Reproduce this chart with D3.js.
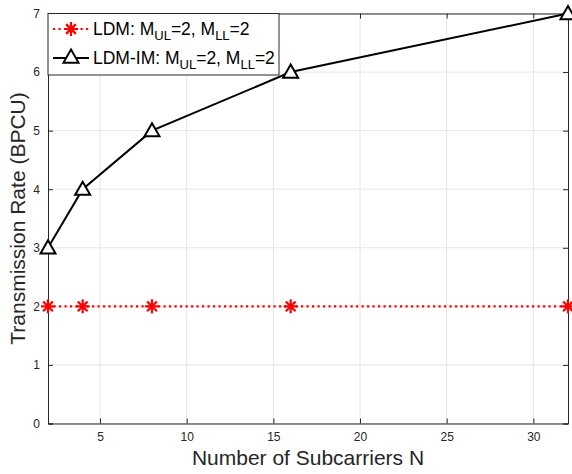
<!DOCTYPE html>
<html><head><meta charset="utf-8">
<script src="https://cdn.jsdelivr.net/npm/d3@7"></script>
<style>body{margin:0;background:#fff}svg{display:block;font-family:"Liberation Sans",Arial,sans-serif}</style>
</head><body><svg id="c" width="572" height="474"></svg>
<script>
const subcarriers = [2, 4, 8, 16, 32];
const ldmRate = [2, 2, 2, 2, 2];
const ldmImRate = [3, 4, 5, 6, 7];
const xTicks = [5, 10, 15, 20, 25, 30];
const yTicks = [0, 1, 2, 3, 4, 5, 6, 7];

const svg = d3.select("#c");
const L = 48, R = 568, T = 13.5, B = 423.5;
const x = d3.scaleLinear().domain([2, 32]).range([L, R]);
const y = d3.scaleLinear().domain([0, 7]).range([B, T]);

// grid
const g = svg.append("g");
g.selectAll(".vg").data(xTicks).join("line")
  .attr("x1", d => x(d)).attr("x2", d => x(d)).attr("y1", T).attr("y2", B)
  .attr("stroke", "#e6e6e6").attr("stroke-width", 1);
g.selectAll(".hg").data(yTicks).join("line")
  .attr("y1", d => y(d)).attr("y2", d => y(d)).attr("x1", L).attr("x2", R)
  .attr("stroke", "#e6e6e6").attr("stroke-width", 1);

// axes
const axCol = "#262626";
const xb = svg.append("g").attr("transform", `translate(0,${B})`)
  .call(d3.axisBottom(x).tickValues(xTicks).tickSize(-5).tickPadding(9).tickFormat(d3.format("d")));
const xt = svg.append("g").attr("transform", `translate(0,${T})`)
  .call(d3.axisTop(x).tickValues(xTicks).tickSize(-5).tickFormat(""));
const yl = svg.append("g").attr("transform", `translate(${L},0)`)
  .call(d3.axisLeft(y).tickValues(yTicks).tickSize(-5).tickPadding(8).tickFormat(d3.format("d")));
const yr = svg.append("g").attr("transform", `translate(${R},0)`)
  .call(d3.axisRight(y).tickValues(yTicks).tickSize(-5).tickFormat(""));
[xb, xt, yl, yr].forEach(a => {
  a.select(".domain").attr("stroke", axCol).attr("stroke-width", 1);
  a.selectAll(".tick line").attr("stroke", axCol);
  a.selectAll("text").attr("fill", axCol).style("font-size", "12px")
    .style("font-family", '"Liberation Sans",Arial,sans-serif');
});

// series
const line = d3.line().x((d, i) => x(subcarriers[i])).y(d => y(d));
svg.append("path").datum(ldmRate).attr("d", line).attr("fill", "none")
  .attr("stroke", "#ff0000").attr("stroke-width", 2.2).attr("stroke-dasharray", "2.2,3.3");
svg.append("path").datum(ldmImRate).attr("d", line).attr("fill", "none")
  .attr("stroke", "#000").attr("stroke-width", 2);

function star(sel, cx, cy) {
  const r = 7;
  const gg = sel.append("g").attr("transform", `translate(${cx},${cy})`)
    .attr("stroke", "#ff0000").attr("stroke-width", 2.2);
  [[-r, 0, r, 0], [0, -r, 0, r], [-r*0.7, -r*0.7, r*0.7, r*0.7], [-r*0.7, r*0.7, r*0.7, -r*0.7]]
    .forEach(s => gg.append("line").attr("x1", s[0]).attr("y1", s[1]).attr("x2", s[2]).attr("y2", s[3]));
}
function tri(sel, cx, cy) {
  const s = 7.5;
  sel.append("path")
    .attr("d", `M${cx},${cy - s}L${cx + s},${cy + s*0.75}L${cx - s},${cy + s*0.75}Z`)
    .attr("fill", "#fff").attr("stroke", "#000").attr("stroke-width", 2);
}
ldmRate.forEach((v, i) => star(svg, x(subcarriers[i]), y(v)));
ldmImRate.forEach((v, i) => tri(svg, x(subcarriers[i]), y(v)));

// axis labels
svg.append("text").attr("x", (L + R) / 2).attr("y", 465).attr("text-anchor", "middle")
  .attr("fill", axCol).style("font-size", "21px").text("Number of Subcarriers N");
svg.append("text").attr("transform", `translate(25,${(T + B) / 2}) rotate(-90)`)
  .attr("text-anchor", "middle").attr("fill", axCol).style("font-size", "21px")
  .text("Transmission Rate (BPCU)");

// legend
const lg = svg.append("g");
lg.append("rect").attr("x", L).attr("y", T).attr("width", 231).attr("height", 61.5)
  .attr("fill", "#fff").attr("stroke", axCol).attr("stroke-width", 1);
const rows = [
  {name: "LDM", y: 29, kind: "star"},
  {name: "LDM-IM", y: 58, kind: "tri"}
];
rows.forEach(r => {
  if (r.kind === "star") {
    lg.append("line").attr("x1", 53).attr("x2", 89).attr("y1", r.y).attr("y2", r.y)
      .attr("stroke", "#ff0000").attr("stroke-width", 2.2).attr("stroke-dasharray", "2.2,3.3");
    star(lg, 71, r.y);
  } else {
    lg.append("line").attr("x1", 53).attr("x2", 89).attr("y1", r.y).attr("y2", r.y)
      .attr("stroke", "#000").attr("stroke-width", 2);
    tri(lg, 71, r.y - 1);
  }
  const t = lg.append("text").attr("x", 93).attr("y", r.y + 6).attr("fill", "#000")
    .style("font-size", "17.5px");
  t.append("tspan").text(r.name + ": M");
  t.append("tspan").attr("dy", 5).style("font-size", "13px").text("UL");
  t.append("tspan").attr("dy", -5).text("=2, M");
  t.append("tspan").attr("dy", 5).style("font-size", "13px").text("LL");
  t.append("tspan").attr("dy", -5).text("=2");
});
</script></body></html>
